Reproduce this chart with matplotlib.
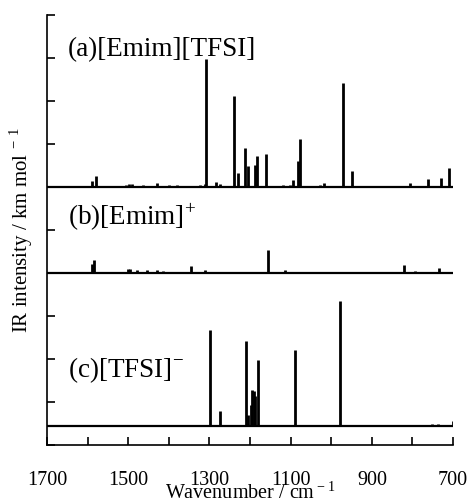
import matplotlib
matplotlib.use("Agg")
import matplotlib.pyplot as plt

plt.rcParams['font.family'] = ['Liberation Serif', 'DejaVu Serif']
plt.rcParams['mathtext.fontset'] = 'custom'
plt.rcParams['mathtext.rm'] = 'Liberation Serif'

# (a) [Emim][TFSI] ion pair: wavenumber (cm-1), stick height
a_wn = [1589, 1579, 1505, 1497, 1490, 1463, 1430, 1400, 1380, 1323, 1311, 1309,
        1284, 1274, 1239, 1230, 1212, 1206, 1189, 1184, 1160, 1127, 1120,
        1101, 1094, 1082, 1078, 1027, 1018, 970, 950, 806, 761, 729, 709]
a_int = [0.14, 0.26, 0.06, 0.08, 0.07, 0.05, 0.1, 0.04, 0.04, 0.05, 0.07, 2.98,
         0.11, 0.08, 2.12, 0.33, 0.91, 0.5, 0.52, 0.73, 0.77, 0.03, 0.04,
         0.05, 0.16, 0.6, 1.12, 0.05, 0.09, 2.42, 0.37, 0.09, 0.18, 0.2, 0.45]

# (b) [Emim]+ cation
b_wn = [1590, 1585, 1500, 1495, 1479, 1454, 1430, 1414, 1345, 1312,
        1155, 1113, 1085, 820, 794, 734]
b_int = [0.2, 0.31, 0.09, 0.09, 0.07, 0.06, 0.06, 0.05, 0.16, 0.07,
         0.53, 0.08, 0.03, 0.18, 0.04, 0.12]

# (c) [TFSI]- anion
c_wn = [1298, 1275, 1209, 1204, 1198, 1195, 1190, 1187, 1181, 1090, 979, 753, 736, 701]
c_int = [2.23, 0.35, 1.98, 0.26, 0.47, 0.84, 0.8, 0.7, 1.53, 1.77, 2.89, 0.05, 0.03, 0.12]

offsets = {'a': 6.0, 'b': 4.0, 'c': 0.45}

fig = plt.figure(figsize=(4.71, 5.04), dpi=100)
ax = fig.add_axes([0.0998, 0.117, 0.8622, 0.853])

for key, wn, inten in [('a', a_wn, a_int), ('b', b_wn, b_int), ('c', c_wn, c_int)]:
    base = offsets[key]
    ax.axhline(base, color='black', lw=1.6)
    ax.vlines(wn, base, [base + v for v in inten], color='black', lw=2.0)

ax.text(1648, 9.05, '(a)[Emim][TFSI]', fontsize=19.5, va='baseline')
ax.text(1648, 5.12, '(b)[Emim]$^{+}$', fontsize=19.5, va='baseline')
ax.text(1648, 1.59, '(c)[TFSI]$^{-}$', fontsize=19.5, va='baseline')

ax.set_xlim(1700, 700)
ax.set_ylim(0, 10)
ax.set_xticks([1700, 1500, 1300, 1100, 900, 700])
ax.set_xticks([1600, 1400, 1200, 1000, 800], minor=True)
ax.set_yticks(range(0, 11))
ax.set_yticklabels([])
ax.tick_params(axis='both', which='both', direction='in', length=6, width=1.2)
ax.tick_params(axis='x', labelsize=14.5, pad=19)
for s in ['top', 'right']:
    ax.spines[s].set_visible(False)
for s in ['left', 'bottom']:
    ax.spines[s].set_linewidth(1.2)

ax.set_xlabel('Wavenumber / cm$^{\\rm -1}$', fontsize=14.5, labelpad=-6)
ax.set_ylabel('IR intensity / km mol$^{\\rm \\,-\\,1}$', fontsize=15, labelpad=5)

fig.savefig('out.png', dpi=100)
